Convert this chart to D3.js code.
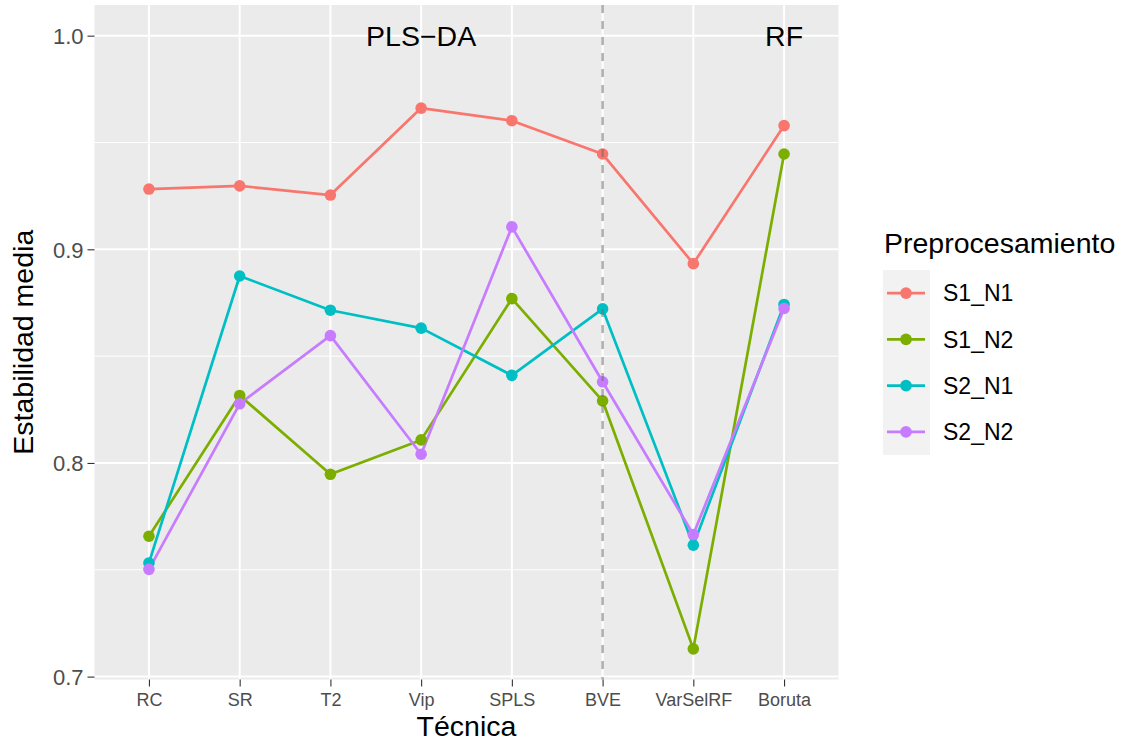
<!DOCTYPE html>
<html>
<head>
<meta charset="utf-8">
<script src="https://cdn.jsdelivr.net/npm/d3@7"></script>
<style>
  html, body { margin: 0; padding: 0; background: #ffffff; }
  svg { display: block; font-family: "Liberation Sans", Arial, Helvetica, sans-serif; }
</style>
</head>
<body>
<svg id="chart" width="1132" height="742"></svg>
<script>
// Techniques on the x axis
const tecnicas = ["RC", "SR", "T2", "Vip", "SPLS", "BVE", "VarSelRF", "Boruta"];

// Mean stability per preprocessing scheme
const S1_N1 = [0.9282, 0.9297, 0.9254, 0.9661, 0.9602, 0.9446, 0.8933, 0.9579];
const S1_N2 = [0.7657, 0.8316, 0.7947, 0.8108, 0.8769, 0.8291, 0.7130, 0.9446];
const S2_N1 = [0.7532, 0.8875, 0.8715, 0.8631, 0.8410, 0.8721, 0.7615, 0.8742];
const S2_N2 = [0.7502, 0.8277, 0.8596, 0.8041, 0.9105, 0.8380, 0.7665, 0.8723];

const grupos = ["S1_N1", "S1_N2", "S2_N1", "S2_N2"];
const valores = [S1_N1, S1_N2, S2_N1, S2_N2];
const colores = ["#F8766D", "#7CAE00", "#00BFC4", "#C77CFF"];

const yTicks = [0.7, 0.8, 0.9, 1.0];
const yMinor = [0.75, 0.85, 0.95];

// Group annotations placed at y = 1
const anotaciones = [
  { texto: "PLS\u2212DA", tecnica: "Vip" },
  { texto: "RF", tecnica: "Boruta" }
];
const separador = "BVE";

const svg = d3.select("#chart");
const panel = { left: 94.5, right: 838.5, top: 5, bottom: 679.5 };

// y domain: data plus the annotation height, expanded by 5% like ggplot
const todos = valores.flat().concat([1.0]);
const lo = d3.min(todos), hi = d3.max(todos);
const pad = (hi - lo) * 0.05;

const x = d3.scalePoint().domain(tecnicas)
  .range([panel.left, panel.right]).padding(0.6);
const y = d3.scaleLinear().domain([lo - pad, hi + pad])
  .range([panel.bottom, panel.top]);

// Panel background
svg.append("rect")
  .attr("x", panel.left).attr("y", panel.top)
  .attr("width", panel.right - panel.left)
  .attr("height", panel.bottom - panel.top)
  .attr("fill", "#EBEBEB");

// Grid
const grid = svg.append("g");
grid.selectAll("line.minor").data(yMinor).enter().append("line")
  .attr("x1", panel.left).attr("x2", panel.right)
  .attr("y1", d => y(d)).attr("y2", d => y(d))
  .attr("stroke", "#ffffff").attr("stroke-width", 1.0);
grid.selectAll("line.majory").data(yTicks).enter().append("line")
  .attr("x1", panel.left).attr("x2", panel.right)
  .attr("y1", d => y(d)).attr("y2", d => y(d))
  .attr("stroke", "#ffffff").attr("stroke-width", 2.0);
grid.selectAll("line.majorx").data(tecnicas).enter().append("line")
  .attr("y1", panel.top).attr("y2", panel.bottom)
  .attr("x1", d => x(d)).attr("x2", d => x(d))
  .attr("stroke", "#ffffff").attr("stroke-width", 2.0);

// Axes
const yAxis = d3.axisLeft(y).tickValues(yTicks).tickFormat(d3.format(".1f"))
  .tickSizeInner(7).tickSizeOuter(0).tickPadding(4);
const gy = svg.append("g").attr("transform", `translate(${panel.left},0)`).call(yAxis);
gy.select(".domain").remove();
gy.selectAll(".tick line").attr("stroke", "#333333").attr("stroke-width", 1.1);
gy.selectAll(".tick text").attr("fill", "#4D4D4D")
  .style("font-size", "22px").attr("dy", "0.35em");

const xAxis = d3.axisBottom(x).tickSizeInner(7).tickSizeOuter(0).tickPadding(4);
const gx = svg.append("g").attr("transform", `translate(0,${panel.bottom})`).call(xAxis);
gx.select(".domain").remove();
gx.selectAll(".tick line").attr("stroke", "#333333").attr("stroke-width", 1.1);
gx.selectAll(".tick text").attr("fill", "#4D4D4D")
  .style("font-size", "18px").attr("dy", "0.85em");

// Axis titles
svg.append("text")
  .attr("x", (panel.left + panel.right) / 2).attr("y", 736)
  .attr("text-anchor", "middle").style("font-size", "28.5px").attr("fill", "#000")
  .text("T\u00e9cnica");
svg.append("text")
  .attr("transform", `translate(33,${(panel.top + panel.bottom) / 2}) rotate(-90)`)
  .attr("text-anchor", "middle").style("font-size", "28.5px").attr("fill", "#000")
  .text("Estabilidad media");

// Series
const series = grupos.map((g, i) => ({
  nombre: g, color: colores[i],
  puntos: tecnicas.map((t, j) => ({ t, v: valores[i][j] }))
}));

const linea = d3.line().x(d => x(d.t)).y(d => y(d.v));
svg.append("g").selectAll("path").data(series).enter().append("path")
  .attr("d", d => linea(d.puntos))
  .attr("fill", "none").attr("stroke", d => d.color)
  .attr("stroke-width", 2.7).attr("stroke-linejoin", "round");

const gp = svg.append("g");
series.forEach(s => {
  gp.selectAll(null).data(s.puntos).enter().append("circle")
    .attr("cx", d => x(d.t)).attr("cy", d => y(d.v)).attr("r", 5.8)
    .attr("fill", s.color);
});

// Vertical separator between PLS-DA and RF techniques
svg.append("line")
  .attr("x1", x(separador)).attr("x2", x(separador))
  .attr("y1", panel.top).attr("y2", panel.bottom)
  .attr("stroke", "#6e6e6e").attr("stroke-opacity", 0.55)
  .attr("stroke-width", 2.5).attr("stroke-dasharray", "8,8");

// Group labels
svg.append("g").selectAll("text").data(anotaciones).enter().append("text")
  .attr("x", d => x(d.tecnica)).attr("y", y(1.0))
  .attr("dy", "0.36em").attr("text-anchor", "middle")
  .style("font-size", "28.5px").attr("fill", "#000")
  .text(d => d.texto);

// Legend
const leg = svg.append("g");
leg.append("text").attr("x", 884).attr("y", 253)
  .style("font-size", "28.5px").attr("fill", "#000").text("Preprocesamiento");
leg.append("rect").attr("x", 883).attr("y", 270).attr("width", 47).attr("height", 185)
  .attr("fill", "#F2F2F2");
const keyH = 185 / 4;
series.forEach((s, i) => {
  const cy = 270 + keyH * (i + 0.5);
  leg.append("line").attr("x1", 887).attr("x2", 925).attr("y1", cy).attr("y2", cy)
    .attr("stroke", s.color).attr("stroke-width", 2.7);
  leg.append("circle").attr("cx", 906).attr("cy", cy).attr("r", 5.8).attr("fill", s.color);
  leg.append("text").attr("x", 943).attr("y", cy).attr("dy", "0.36em")
    .style("font-size", "23px").attr("fill", "#000").text(s.nombre);
});
</script>
</body>
</html>
